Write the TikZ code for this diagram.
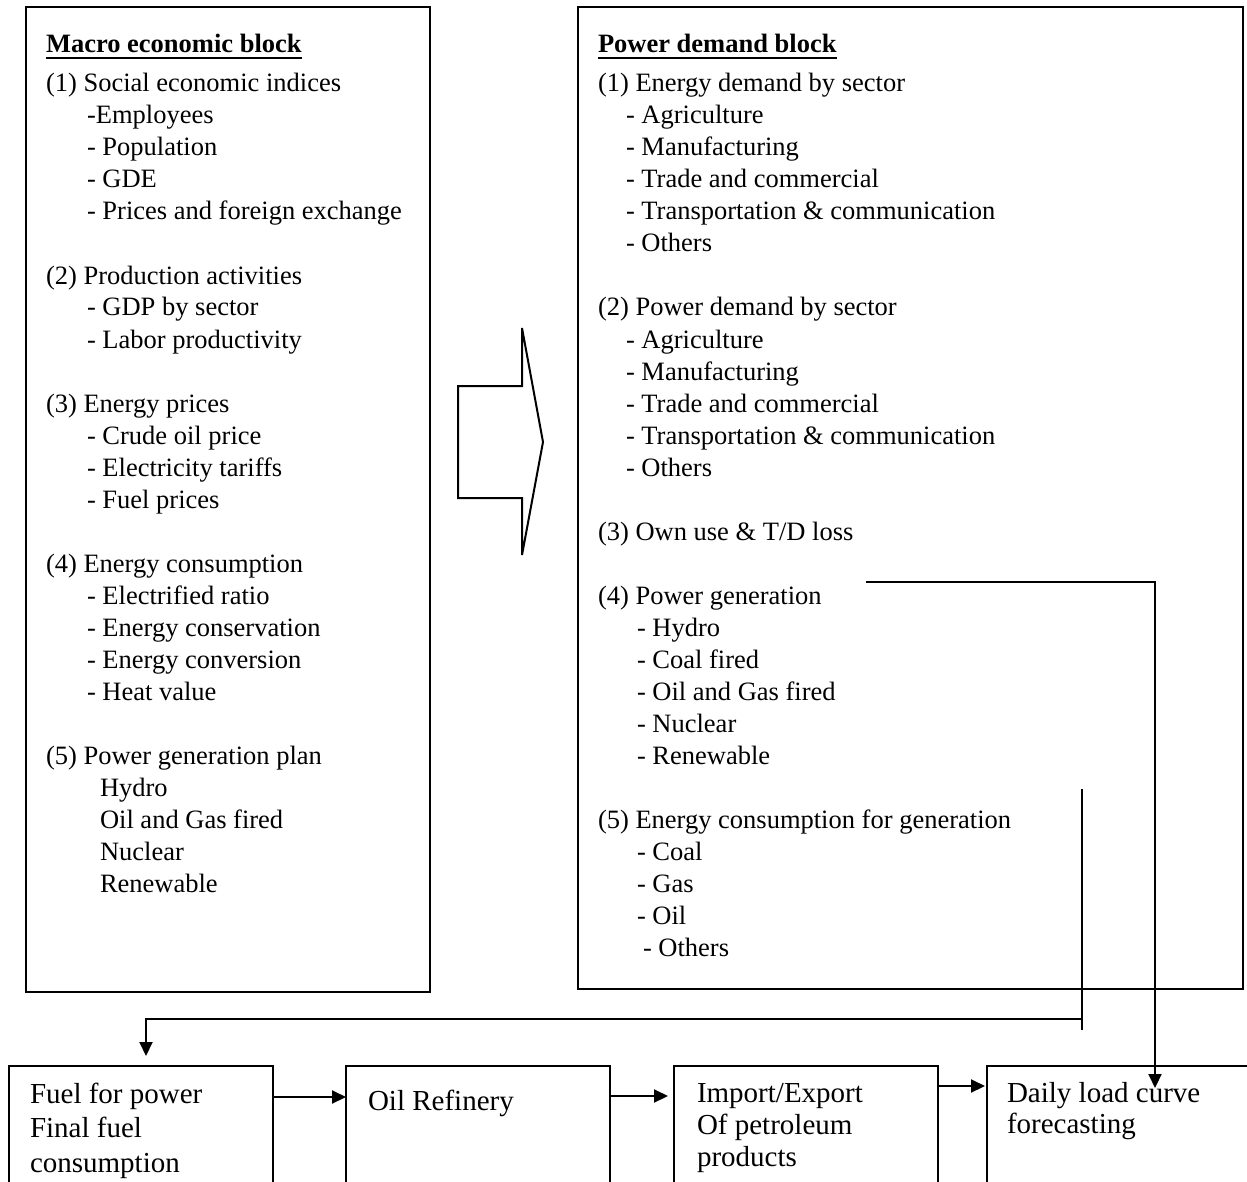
\documentclass[tikz,border=0pt]{standalone}
\usepackage{fontspec}
\setmainfont{Liberation Serif}
\usetikzlibrary{arrows.meta}
\newcommand{\Ltext}[4]{\node[tx] (#1) at (#2,#3) {#4};}
\newcommand{\Btext}[4]{\node[btx] (#1) at (#2,#3) {#4};}
\begin{document}
\begin{tikzpicture}[x=1pt,y=-1pt,
  tx/.style={anchor=base west,inner sep=0pt,outer sep=0pt,font=\fontsize{26.5}{32}\selectfont},
  btx/.style={anchor=base west,inner sep=0pt,outer sep=0pt,font=\fontsize{29}{34}\selectfont},
  ttl/.style={tx,font=\fontsize{26.5}{32}\selectfont\bfseries},
  box/.style={draw,line width=2pt,anchor=north west,inner sep=0pt,outer sep=0pt},
  conn/.style={line width=2pt},
  arr/.style={line width=2pt,-{Triangle[length=14pt,width=13pt]}}]
\useasboundingbox (0,0) rectangle (1247,1182);
\clip (0,0) rectangle (1247,1182);
\fill[white] (0,0) rectangle (1247,1182);

% main blocks
\node[box,minimum width=404,minimum height=985] (macro) at (26,7) {};
\node[box,minimum width=665,minimum height=982] (power) at (578,7) {};

% macro block text
\node[ttl] (mt) at (46,53) {Macro economic block};
\draw[line width=2pt] ([yshift=-5pt]mt.base west) -- ([yshift=-5pt]mt.base east);
\Ltext{m1}{46}{92}{(1) Social economic indices}
\Ltext{m2}{87}{124}{-Employees}
\Ltext{m3}{87}{156}{- Population}
\Ltext{m4}{87}{188}{- GDE}
\Ltext{m5}{87}{220}{- Prices and foreign exchange}
\Ltext{m6}{46}{284}{(2) Production activities}
\Ltext{m7}{87}{316}{- GDP by sector}
\Ltext{m8}{87}{348}{- Labor productivity}
\Ltext{m9}{46}{412}{(3) Energy prices}
\Ltext{m10}{87}{444}{- Crude oil price}
\Ltext{m11}{87}{476}{- Electricity tariffs}
\Ltext{m12}{87}{508}{- Fuel prices}
\Ltext{m13}{46}{572}{(4) Energy consumption}
\Ltext{m14}{87}{604}{- Electrified ratio}
\Ltext{m15}{87}{636}{- Energy conservation}
\Ltext{m16}{87}{668}{- Energy conversion}
\Ltext{m17}{87}{700}{- Heat value}
\Ltext{m18}{46}{764}{(5) Power generation plan}
\Ltext{m19}{100}{796}{Hydro}
\Ltext{m20}{100}{828}{Oil and Gas fired}
\Ltext{m21}{100}{860}{Nuclear}
\Ltext{m22}{100}{892}{Renewable}

% power demand block text
\node[ttl] (pt) at (598,53) {Power demand block};
\draw[line width=2pt] ([yshift=-5pt]pt.base west) -- ([yshift=-5pt]pt.base east);
\Ltext{p1}{598}{92}{(1) Energy demand by sector}
\Ltext{p2}{626}{124}{- Agriculture}
\Ltext{p3}{626}{156}{- Manufacturing}
\Ltext{p4}{626}{188}{- Trade and commercial}
\Ltext{p5}{626}{220}{- Transportation \& communication}
\Ltext{p6}{626}{252}{- Others}
\Ltext{p7}{598}{316}{(2) Power demand by sector}
\Ltext{p8}{626}{348}{- Agriculture}
\Ltext{p9}{626}{380}{- Manufacturing}
\Ltext{p10}{626}{412}{- Trade and commercial}
\Ltext{p11}{626}{444}{- Transportation \& communication}
\Ltext{p12}{626}{476}{- Others}
\Ltext{p13}{598}{540}{(3) Own use \& T/D loss}
\Ltext{p14}{598}{604}{(4) Power generation}
\Ltext{p15}{637}{636}{- Hydro}
\Ltext{p16}{637}{668}{- Coal fired}
\Ltext{p17}{637}{700}{- Oil and Gas fired}
\Ltext{p18}{637}{732}{- Nuclear}
\Ltext{p19}{637}{764}{- Renewable}
\Ltext{p20}{598}{828}{(5) Energy consumption for generation}
\Ltext{p21}{637}{860}{- Coal}
\Ltext{p22}{637}{892}{- Gas}
\Ltext{p23}{637}{924}{- Oil}
\Ltext{p24}{643}{956}{- Others}

% block arrow
\draw[line width=2pt,line join=miter] (458,386) -- (522,386) -- (522,328) -- (543,442) -- (522,555) -- (522,498) -- (458,498) -- cycle;

% bottom boxes
\node[box,minimum width=264,minimum height=150] (fuel) at (9,1066) {};
\node[box,minimum width=264,minimum height=150] (oil) at (346,1066) {};
\node[box,minimum width=264,minimum height=150] (imp) at (674,1066) {};
\node[box,minimum width=300,minimum height=150] (daily) at (987,1066) {};

\Btext{f1}{30}{1103}{Fuel for power}
\Btext{f2}{30}{1137}{Final fuel}
\Btext{f3}{30}{1172}{consumption}
\Btext{o1}{368}{1110}{Oil Refinery}
\Btext{i1}{697}{1102}{Import/Export}
\Btext{i2}{697}{1134}{Of petroleum}
\Btext{i3}{697}{1166}{products}
\Btext{d1}{1007}{1102}{Daily load curve}
\Btext{d2}{1007}{1133}{forecasting}

% connectors
\draw[arr] (fuel.east |- 0,1097) -- (oil.west |- 0,1097);
\draw[arr] (oil.east |- 0,1096) -- ([xshift=-6pt]imp.west |- 0,1096);
\draw[arr] (imp.east |- 0,1086) -- ([xshift=-2pt]daily.west |- 0,1086);

\coordinate (pgstart) at (866,582);
\coordinate (pgcorner) at (1155,582);
\coordinate (pgend) at (1155,1088);
\draw[arr,line join=miter] (pgstart) -- (pgcorner) -- (pgend);

\coordinate (ecTop) at (1082,789);
\coordinate (ecBot) at (1082,1030);
\coordinate (ecJoin) at (1082,1019);
\coordinate (ecTurn) at (146,1019);
\coordinate (ecEnd) at (146,1056);
\draw[conn] (ecTop) -- (ecBot);
\draw[arr,line join=miter] (ecJoin) -- (ecTurn) -- (ecEnd);
\end{tikzpicture}
\end{document}
